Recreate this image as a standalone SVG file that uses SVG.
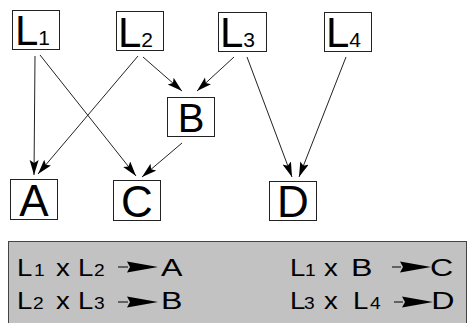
<svg xmlns="http://www.w3.org/2000/svg" width="469" height="323" viewBox="0 0 469 323">
<style>
.box{fill:#fff;stroke:#222;stroke-width:1}
.big{font-family:"Liberation Sans",Arial,sans-serif;fill:#000}
.sub{font-family:"Liberation Sans",Arial,sans-serif;font-size:21px}
.edge{stroke:#222;stroke-width:1;fill:none;marker-end:url(#ah)}
.pt{font-family:"Liberation Sans",Arial,sans-serif;font-size:23px;fill:#000}
.ps{font-family:"Liberation Sans",Arial,sans-serif;font-size:16px;fill:#000}
</style>
<defs>
<marker id="ah" markerUnits="userSpaceOnUse" markerWidth="16" markerHeight="10" refX="15" refY="4.5" orient="auto">
<path d="M0,0 L15,4.5 L0,9 L3,4.5 z" fill="#000"/>
</marker>
</defs>
<rect width="469" height="323" fill="#fff"/>
<g id="L1"><rect class="box" x="12.5" y="10.5" width="47" height="39"/><text class="big" x="15" y="45" font-size="42">L<tspan class="sub">1</tspan></text></g>
<g id="L2"><rect class="box" x="116.5" y="11.5" width="47" height="39"/><text class="big" x="118" y="47" font-size="42">L<tspan class="sub">2</tspan></text></g>
<g id="L3"><rect class="box" x="218.5" y="12.5" width="48" height="39"/><text class="big" x="220" y="47" font-size="42">L<tspan class="sub">3</tspan></text></g>
<g id="L4"><rect class="box" x="324.5" y="12.5" width="47" height="39"/><text class="big" x="326" y="47" font-size="42">L<tspan class="sub">4</tspan></text></g>
<g id="B"><rect class="box" x="167.5" y="97.5" width="47" height="39"/><text class="big" x="191" y="132" font-size="40" text-anchor="middle">B</text></g>
<g id="A"><rect class="box" x="10.5" y="179.5" width="47" height="40"/><text class="big" x="34" y="216" font-size="44" text-anchor="middle">A</text></g>
<g id="C"><rect class="box" x="113.5" y="180.5" width="47" height="40"/><text class="big" x="137" y="217" font-size="44" text-anchor="middle">C</text></g>
<g id="D"><rect class="box" x="269.5" y="181.5" width="47" height="39"/><text class="big" x="293" y="217" font-size="44" text-anchor="middle">D</text></g>
<g id="connectors">
<line class="edge" x1="35" y1="56" x2="34" y2="175"/>
<line class="edge" x1="40" y1="55" x2="136" y2="176"/>
<line class="edge" x1="138" y1="56" x2="38" y2="174"/>
<line class="edge" x1="143" y1="57" x2="182" y2="91"/>
<line class="edge" x1="234" y1="57" x2="197" y2="91"/>
<line class="edge" x1="247" y1="57" x2="292" y2="177"/>
<line class="edge" x1="346" y1="57" x2="299" y2="177"/>
<line class="edge" x1="182" y1="143" x2="142" y2="177"/>
</g>
<g id="legend">
<rect x="8.5" y="241.5" width="458" height="90" fill="#c2c2c2" stroke="#444" stroke-width="1"/>
<g transform="scale(1.2,1)">
<text class="pt" x="14.2" y="276">L</text><text class="ps" x="28.3" y="276">1</text><text class="pt" x="46.7" y="276">x</text><text class="pt" x="65" y="276">L</text><text class="ps" x="78.3" y="276">2</text>
<text class="pt" x="14.2" y="309">L</text><text class="ps" x="27.5" y="309">2</text><text class="pt" x="46.7" y="309">x</text><text class="pt" x="65" y="309">L</text><text class="ps" x="78.3" y="309">3</text>
<text class="pt" x="241.7" y="276">L</text><text class="ps" x="254.2" y="276">1</text><text class="pt" x="270" y="276">x</text>
<text class="pt" x="241.7" y="309">L</text><text class="ps" x="253.3" y="309">3</text><text class="pt" x="270" y="309">x</text><text class="pt" x="294.2" y="309">L</text><text class="ps" x="308.3" y="309">4</text>
</g>
<g transform="scale(1.4,1)">
<text class="pt" x="115" y="276">A</text>
<text class="pt" x="115" y="309">B</text>
<text class="pt" x="250.7" y="276">B</text>
<text class="pt" x="307.1" y="276">C</text>
<text class="pt" x="308" y="309">D</text>
</g>
<g fill="#000" stroke="#000" stroke-width="1">
<line x1="118" y1="267" x2="128" y2="267"/><polygon stroke="none" points="127,261.5 158,267 127,272.5 130,267"/>
<line x1="118" y1="302" x2="128" y2="302"/><polygon stroke="none" points="127,296.5 158,302 127,307.5 130,302"/>
<line x1="392" y1="267" x2="401" y2="267"/><polygon stroke="none" points="400,261.5 431,267 400,272.5 403,267"/>
<line x1="394" y1="302" x2="403" y2="302"/><polygon stroke="none" points="402,296.5 433,302 402,307.5 405,302"/>
</g>
</g>
</svg>
